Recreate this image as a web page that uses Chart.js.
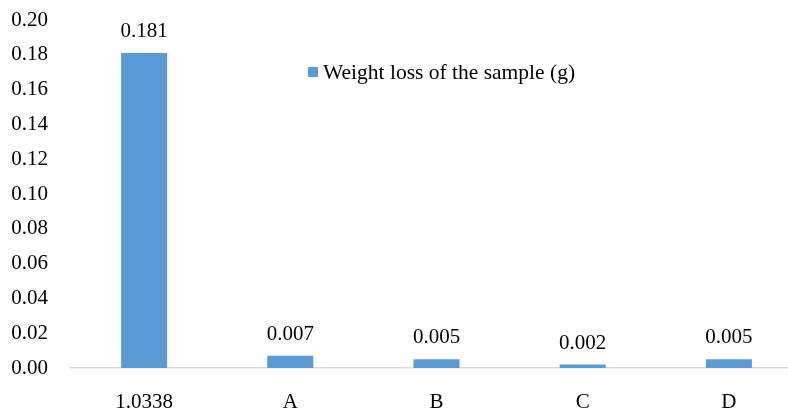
<!DOCTYPE html>
<html lang="en">
<head>
<meta charset="UTF-8">
<title>Weight loss of the sample</title>
<script src="https://cdn.jsdelivr.net/npm/chart.js@4.4.4/dist/chart.umd.min.js"></script>
<style>
    html, body {
        margin: 0;
        padding: 0;
        background: #ffffff;
        overflow: hidden;
    }
    #chart-container {
        width: 802px;
        height: 417px;
    }
</style>
</head>
<body>
<div id="chart-container">
    <canvas id="loss-chart"></canvas>
</div>
<script>
    const categories = ['1.0338', 'A', 'B', 'C', 'D'];
    const weightLoss = [0.181, 0.007, 0.005, 0.002, 0.005];
    const valueLabels = ['0.181', '0.007', '0.005', '0.002', '0.005'];
    const seriesName = 'Weight loss of the sample (g)';

    const barColor = '#5b9bd5';
    const fontFamily = '"Liberation Serif", "Times New Roman", serif';

    // value above each bar
    const valueLabelPlugin = {
        id: 'valueLabels',
        afterDatasetsDraw(chart) {
            const ctx = chart.ctx;
            const meta = chart.getDatasetMeta(0);
            ctx.save();
            ctx.font = '21px ' + fontFamily;
            ctx.fillStyle = '#000000';
            ctx.textAlign = 'center';
            ctx.textBaseline = 'alphabetic';
            meta.data.forEach((bar, i) => {
                ctx.fillText(valueLabels[i], bar.x, bar.y - 16);
            });
            ctx.restore();
        }
    };

    // legend drawn inside the plot area
    const innerLegendPlugin = {
        id: 'innerLegend',
        afterDraw(chart) {
            const ctx = chart.ctx;
            ctx.save();
            ctx.fillStyle = barColor;
            ctx.fillRect(308, 67, 10, 10);
            ctx.font = '21.5px ' + fontFamily;
            ctx.fillStyle = '#000000';
            ctx.textAlign = 'left';
            ctx.textBaseline = 'alphabetic';
            ctx.fillText(chart.data.datasets[0].label, 323, 79);
            ctx.restore();
        }
    };

    const ctx = document.getElementById('loss-chart').getContext('2d');
    new Chart(ctx, {
        type: 'bar',
        data: {
            labels: categories,
            datasets: [{
                label: seriesName,
                data: weightLoss,
                backgroundColor: barColor,
                borderWidth: 0,
                barPercentage: 0.315,
                categoryPercentage: 1.0
            }]
        },
        options: {
            responsive: true,
            maintainAspectRatio: false,
            animation: false,
            layout: {
                padding: 0
            },
            plugins: {
                legend: { display: false },
                tooltip: { enabled: false }
            },
            scales: {
                x: {
                    grid: { display: false, drawTicks: false },
                    border: { display: true, color: '#d9d9d9', width: 1.5 },
                    ticks: {
                        color: '#000000',
                        font: { family: fontFamily, size: 21 },
                        padding: 22
                    },
                    afterFit: s => { s.height = 49; }
                },
                y: {
                    min: 0,
                    max: 0.2,
                    grid: { display: false, drawTicks: false },
                    border: { display: false },
                    ticks: {
                        stepSize: 0.02,
                        color: '#000000',
                        font: { family: fontFamily, size: 21 },
                        padding: 23,
                        callback: v => v.toFixed(2)
                    },
                    afterFit: s => {
                        s.width = 71;
                        s.paddingTop = 20;
                        s.paddingBottom = 0;
                    }
                }
            }
        },
        plugins: [valueLabelPlugin, innerLegendPlugin]
    });
</script>
</body>
</html>
